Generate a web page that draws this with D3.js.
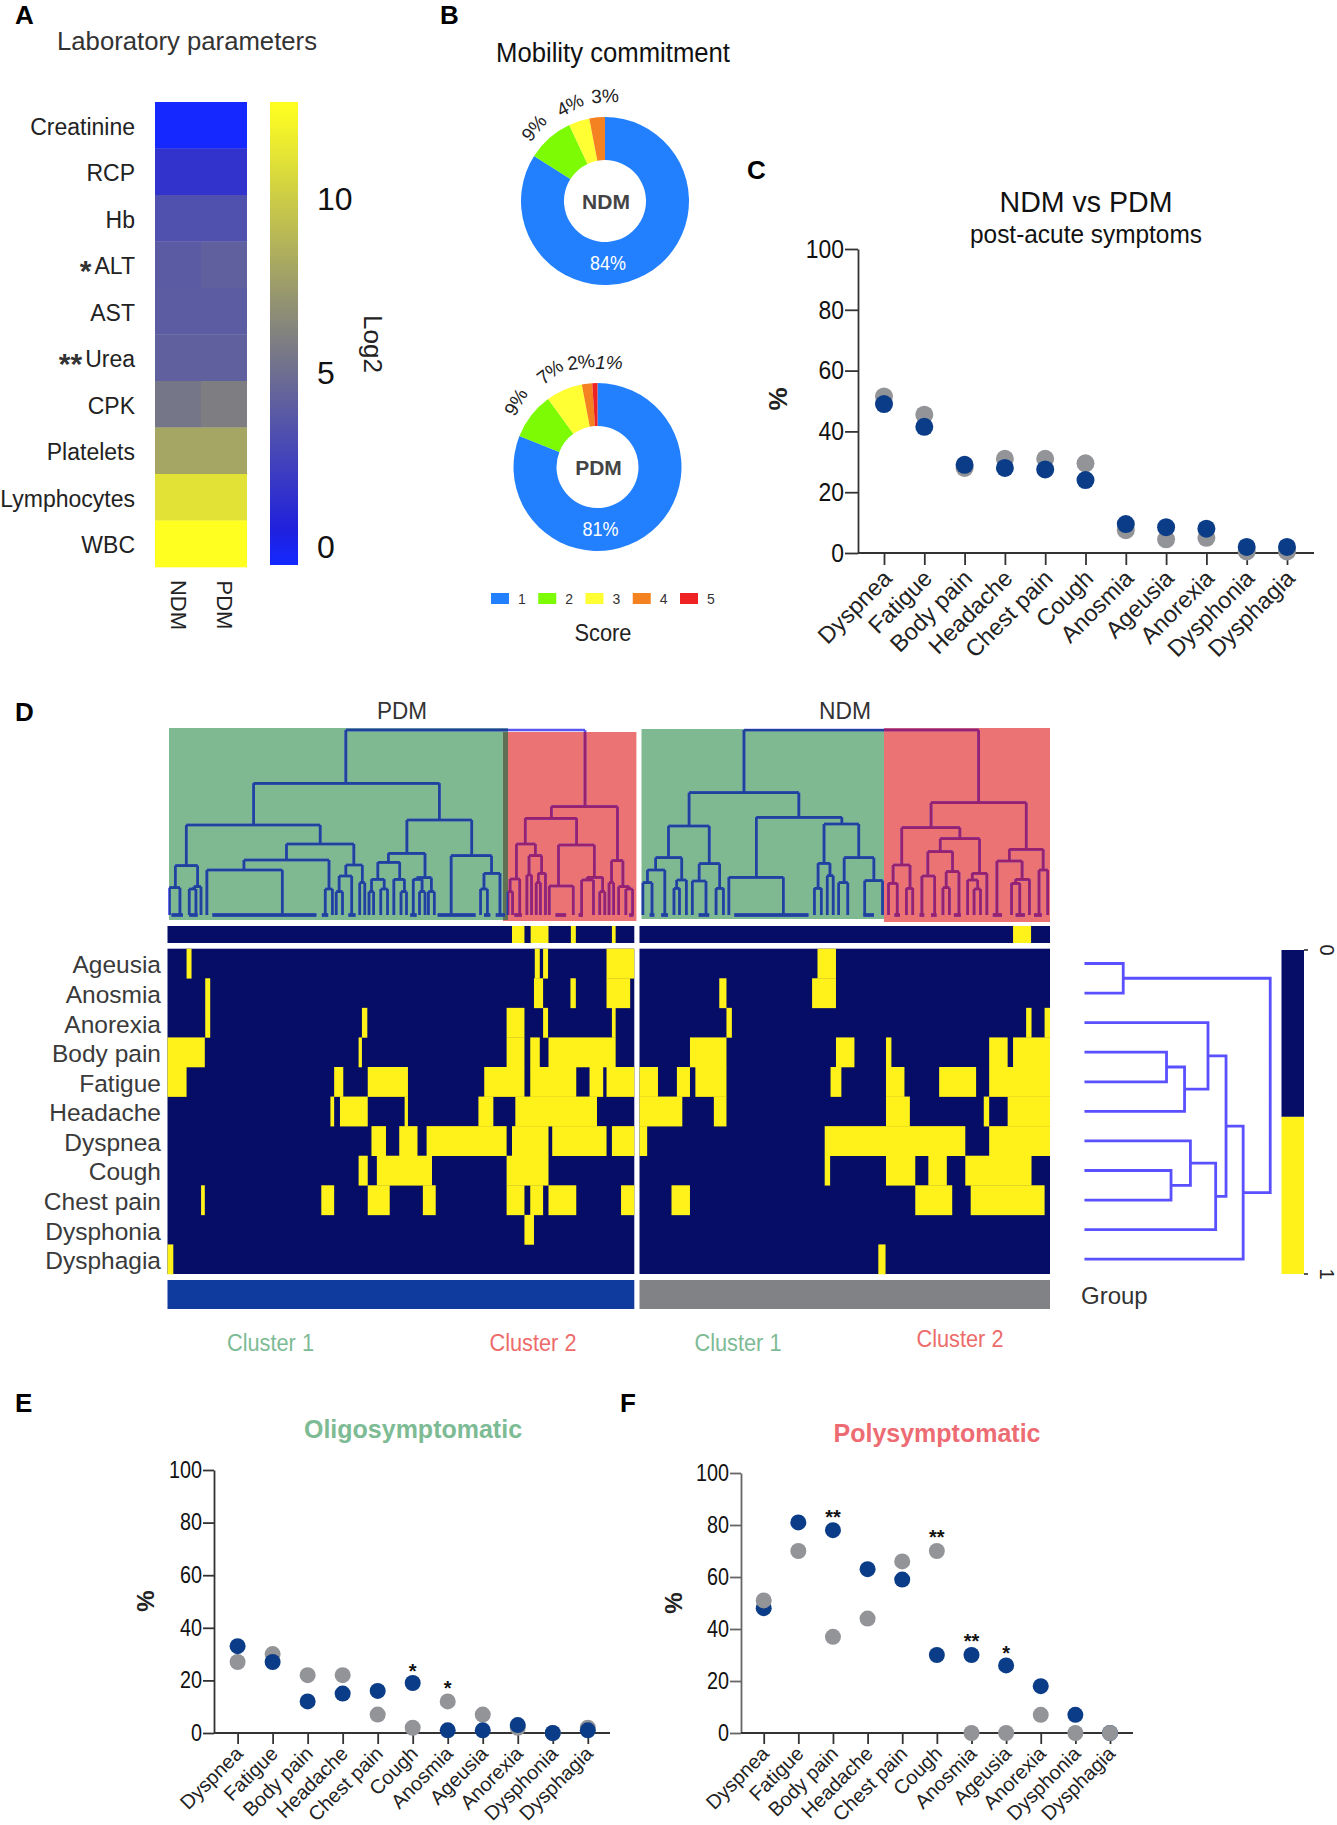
<!DOCTYPE html>
<html><head><meta charset="utf-8">
<script src="https://cdn.jsdelivr.net/npm/d3@7"></script>
<style>
html,body{margin:0;padding:0;background:#fff;overflow:hidden}
svg{display:block;font-family:"Liberation Sans",Arial,sans-serif}
</style></head><body><svg id="c" width="1337" height="1825"></svg>
<script>
// ---------- data ----------
const labParams=["Creatinine","RCP","Hb","*ALT","AST","**Urea","CPK","Platelets","Lymphocytes","WBC"];
const labGroups=["NDM","PDM"];
const labNDM=[0,2.0,3.7,4.3,4.4,4.6,5.85,8.3,11.4,12.9];
const labPDM=[0,2.0,3.7,4.6,4.4,4.6,6.3,8.3,11.4,12.9];
const mobScores=["1","2","3","4","5"];
const mobNDM=[84,9,4,3,0];
const mobPDM=[81,9,7,2,1];
const symptoms=["Dyspnea","Fatigue","Body pain","Headache","Chest pain","Cough","Anosmia","Ageusia","Anorexia","Dysphonia","Dysphagia"];
const cPDM=[49,41.5,29,28,27.5,24,9.5,8.5,8,2,2];
const cNDM=[51.5,45.5,28,31,31,29.5,7.5,4.5,5,0.5,0.5];
const ePDM=[33,27,12,15,16,19,1,1,3,0,1];
const eNDM=[27,30,22,22,7,2,12,7,2,0,2];
const fPDM=[48,81,78,63,59,30,30,26,18,7,0];
const fNDM=[51,70,37,44,66,70,0,0,7,0,0];
const eStars=[["Cough",25.5,"*"],["Anosmia",19,"*"]];
const fStars=[["Body pain",85,"**"],["Cough",77.3,"**"],["Anosmia",37.3,"**"],["Ageusia",32.7,"*"]];
const yTicks=[0,20,40,60,80,100];
const heatRows=["Ageusia","Anosmia","Anorexia","Body pain","Fatigue","Headache","Dyspnea","Cough","Chest pain","Dysphonia","Dysphagia"];
// yellow runs per row on a column-position axis
const pdmRuns=[
 [[450,462],[1290,1302],[1310,1322],[1463,1530]],
 [[495,507],[1288,1310],[1376,1389],[1463,1520]],
 [[495,507],[873,886],[1222,1265],[1310,1322],[1476,1485]],
 [[404,494],[865,873],[1222,1265],[1279,1302],[1323,1485]],
 [[404,450],[806,828],[887,984],[1168,1265],[1279,1390],[1422,1455],[1463,1530]],
 [[797,806],[820,887],[976,984],[1154,1190],[1243,1440]],
 [[896,931],[963,1007],[1029,1222],[1235,1323],[1332,1463],[1476,1530]],
 [[865,887],[909,1042],[1222,1323]],
 [[485,494],[775,806],[887,940],[1020,1051],[1222,1265],[1279,1310],[1323,1390],[1498,1530]],
 [[1265,1288]],
 [[404,418]]];
const ndmRuns=[
 [[416,457]],
 [[198,214],[404,457]],
 [[214,226],[879,891],[920,932]],
 [[133,214],[457,498],[568,580],[797,838],[850,932]],
 [[21,62],[104,133],[145,214],[445,469],[568,609],[686,768],[797,932]],
 [[21,116],[186,214],[568,621],[785,797],[838,932]],
 [[21,38],[432,744],[797,932]],
 [[432,444],[568,633],[662,703],[744,891]],
 [[92,133],[633,715],[756,920]],
 [],
 [[551,567]]];
const pdmTopRuns=[[1235,1265],[1280,1323],[1377,1389],[1476,1485]];
const ndmTopRuns=[[850,890]];
// dendrograms: [leftX,rightX,mergeHeight,leftChild,rightChild], 0 = leaf leg
const pdmTree=[822,1390,120,
 [603,1044,280,
  [443,761,405,
   [417,470,527,[403,428,593,0,0],[461,478,590,[450,466,597,0,0],0]],
   [681,841,462,
    [580,782,510,[492,671,540,0,0],[773,790,597,0,0]],
    [822,861,525,[806,836,558,[799,814,605,0,0],0],[855,867,578,0,0]]]],
  [967,1121,390,
   [923,1010,490,
    [898,950,517,
     [883,913,568,[877,888,605,0,0],[905,921,597,0,0]],
     [936,961,568,0,[953,966,605,0,0]]],
    [990,1025,563,[982,1003,568,0,[997,1010,605,0,0]],[1018,1032,605,0,0]]],
   [1072,1168,497,0,[1150,1188,550,[1142,1158,597,0,0],0]]]],
 [1310,1467,350,
  [1248,1370,385,
   [1227,1272,462,
    [1212,1235,567,[1207,1218,605,0,0],0],
    [1257,1287,497,[1252,1263,555,0,0],[1279,1296,550,[1274,1284,578,0,0],0]]],
   [1327,1412,465,
    [1305,1362,588,0,0],
    [1395,1432,562,[1382,1410,570,0,0],[1425,1437,605,0,0]]]],
  [1453,1480,512,[1447,1458,578,0,0],[1470,1495,590,0,[1487,1503,597,0,0]]]]];
const ndmTree=[271,784,120,
 [151,391,308,
  [106,195,408,
   [78,135,503,[60,98,540,[50,70,578,0,0],0],[124,145,570,[118,130,595,0,0],0]],
   [173,218,521,[158,188,573,0,0],[210,226,595,0,0]]],
  [298,485,382,
   [238,357,562,0,0],
   [446,522,402,
    [433,459,520,[425,440,595,0,0],[453,466,557,0,0]],
    [490,555,503,[478,498,578,0,0],[535,574,572,0,0]]]]],
 [680,888,338,
  [616,743,413,
   [597,634,525,[587,606,580,0,0],[626,640,595,0,0]],
   [700,786,446,
    [673,727,485,[660,688,558,0,0],[713,741,545,[706,720,593,0,0],0]],
    [770,802,550,[760,782,570,0,[774,788,597,0,0]],0]]],
  [851,925,478,
   [824,879,513,0,[865,895,568,[856,874,580,0,0],0]],
   [916,935,540,0,0]]]];
const pdmLeafClusters=[[408,435],[450,470],[505,752],[765,780],[828,845],[975,990],[1040,1130],[1150,1165],[1178,1200],[1222,1240],[1320,1345],[1375,1385],[1495,1505]];
const ndmLeafClusters=[[65,75],[90,105],[172,195],[250,412],[532,555],[600,612],[655,665],[680,692],[730,745],[815,835],[865,885],[905,922]];
// symptom dendrogram: [mergeX,childA,childB], numbers = row index
const rowTree=[1420,[1094,0,1],[1360,[1322,[1282,2,[1230,[1190,3,4],5]],[1299,[1243,6,[1200,7,8]],9]],10]];

// ---------- helpers ----------
const svg=d3.select("#c");
const FG="#222";
function txt(g,x,y,s,o={}){
  const t=g.append("text").attr("x",x).attr("y",y).text(s)
    .attr("font-size",o.size||22).attr("fill",o.fill||FG)
    .attr("text-anchor",o.anchor||"middle").attr("dominant-baseline","central");
  if(o.bold)t.attr("font-weight","bold");
  if(o.italic)t.attr("font-style","italic");
  if(o.len)t.attr("textLength",o.len).attr("lengthAdjust","spacingAndGlyphs");
  if(o.rot!=null)t.attr("transform",`rotate(${o.rot} ${x} ${y})`);
  return t;
}
[["A",15,15],["B",440,15],["C",747,170],["D",15,712],["E",15,1403],["F",620,1403]].forEach(d=>
  txt(svg,d[1],d[2],d[0],{size:26,bold:true,anchor:"start",fill:"#000"}));

// ---------- A ----------
const labColor=d3.scaleLinear().domain([0,1,6.4,12.9]).range(["#1428ff","#2020dd","#808080","#ffff20"]);
const aX=d3.scaleBand().domain(labGroups).range([155,247]);
const aY=d3.scaleBand().domain(labParams).range([102,567]);
const gA=svg.append("g");
txt(gA,187,41,"Laboratory parameters",{size:26,len:260,fill:"#333"});
[labNDM,labPDM].forEach((vals,k)=>{
  gA.selectAll(null).data(vals).join("rect")
    .attr("x",aX(labGroups[k])).attr("width",aX.bandwidth())
    .attr("y",(d,i)=>aY(labParams[i])).attr("height",aY.bandwidth()+0.3)
    .attr("fill",d=>labColor(d));
});
gA.selectAll(null).data(labParams).join("text")
  .attr("x",135).attr("y",d=>aY(d)+aY.bandwidth()/2+1.5)
  .attr("text-anchor","end").attr("dominant-baseline","central")
  .attr("font-size",23).attr("fill",FG)
  .each(function(d){
    const stars=d.match(/^\*+/), sel=d3.select(this), name=d.replace(/^\*+/,"");
    if(stars) sel.append("tspan").text(stars[0]).attr("font-size",30).attr("font-weight","bold").attr("fill","#333").attr("dy",4);
    sel.append("tspan").text(name).attr("dy",stars?-4:0).attr("dx",stars?3:0);
  });
labGroups.forEach(g=>txt(gA,aX(g)+aX.bandwidth()/2,605,g,{size:22,rot:90}));
const aScale=d3.scaleLinear().domain([0,10]).range([547,199]);
const defs=svg.append("defs");
const lg=defs.append("linearGradient").attr("id","labGrad").attr("x1",0).attr("x2",0).attr("y1",1).attr("y2",0);
d3.range(0,13.01,0.5).forEach(v=>lg.append("stop").attr("offset",v/13).attr("stop-color",labColor(v)));
gA.append("rect").attr("x",270).attr("width",28).attr("y",102).attr("height",463).attr("fill","url(#labGrad)");
[0,5,10].forEach(v=>txt(gA,317,aScale(v),v,{size:32,anchor:"start",fill:"#111"}));
txt(gA,373,344,"Log2",{size:26,rot:90});

// ---------- B ----------
const mobColors=d3.scaleOrdinal().domain(mobScores).range(["#2280ff","#7dfb05","#ffff33","#f58220","#ee2222"]);
const pie=d3.pie().sort(null).startAngle(0).endAngle(2*Math.PI);
const arc=d3.arc().innerRadius(41).outerRadius(84);
const gB=svg.append("g");
txt(gB,613,53,"Mobility commitment",{size:27,len:234,fill:"#111"});
function donut(cx,cy,vals,name,labelLayout){
  const g=gB.append("g").attr("transform",`translate(${cx},${cy})`);
  g.selectAll("path").data(pie(vals)).join("path").attr("d",arc).attr("fill",(d,i)=>mobColors(mobScores[i]));
  txt(g,1,0,name,{size:21,bold:true,fill:"#444"});
  txt(g,3,62,vals[0]+"%",{size:20,len:36,fill:"#fff"});
  labelLayout.forEach((l,i)=>txt(gB,l[0],l[1],vals[i+1]+"%",{size:19,rot:l[2],italic:l[3]}));
}
donut(605,201,mobNDM,"NDM",[[534,128,-50],[570,105,-28],[605,96,-3]]);
donut(597.5,467,mobPDM,"PDM",[[516,402,-60],[550,372,-38],[581,362,-8],[609,362,0,true]]);
const legX=d3.scalePoint().domain(mobScores).range([491,680]);
mobScores.forEach((s,i)=>{
  gB.append("rect").attr("x",legX(s)).attr("y",593).attr("width",18).attr("height",11).attr("fill",mobColors(s));
  txt(gB,legX(s)+31,598.5,s,{size:14,fill:"#333"});
});
txt(gB,603,632,"Score",{size:24,len:57});

// ---------- dot plots ----------
const BLUE="#0b3c87",GREY="#929497";
function dotPlot(o){
  const g=svg.append("g");
  const x=d3.scalePoint().domain(symptoms).range(o.xr);
  const y=d3.scaleLinear().domain([0,100]).range(o.yr);
  const ya=g.append("g").attr("transform",`translate(${o.ax},0)`)
    .call(d3.axisLeft(y).tickValues(yTicks).tickSize(o.tl).tickSizeOuter(0).tickPadding(1));
  ya.selectAll("text").attr("font-size",o.fs).attr("font-family","inherit").attr("fill","#111")
    .attr("x",-(o.tl+1)/o.sx).attr("transform",`scale(${o.sx},1)`);
  ya.selectAll("path,line").attr("stroke",o.axc).attr("stroke-width",1.8);
  const xa=g.append("g").attr("transform",`translate(0,${o.yr[0]})`)
    .call(d3.axisBottom(x).tickSize(o.xtl).tickSizeOuter(0));
  xa.select(".domain").remove();
  xa.selectAll("line").attr("stroke","#333").attr("stroke-width",1.8);
  xa.selectAll("text").attr("font-size",o.lfs).attr("font-family","inherit").attr("fill","#222")
    .attr("text-anchor","end").attr("dy",0).attr("y",0).attr("dominant-baseline","central")
    .attr("transform",`translate(${o.ldx},${o.ldy}) rotate(-45)`);
  g.append("line").attr("x1",o.ax).attr("x2",o.xEnd).attr("y1",y(0)).attr("y2",y(0)).attr("stroke","#333").attr("stroke-width",1.8);
  const series=o.greyOnTop?[[o.blue,BLUE],[o.grey,GREY]]:[[o.grey,GREY],[o.blue,BLUE]];
  series.forEach(s=>g.selectAll(null).data(s[0]).join("circle")
    .attr("cx",(d,i)=>x(symptoms[i])).attr("cy",d=>y(d)).attr("r",o.r).attr("fill",s[1]));
  (o.stars||[]).forEach(s=>txt(g,x(s[0]),y(s[1])+5,s[2],{size:20,bold:true,fill:"#111"}));
  txt(g,o.pct[0],o.pct[1],"%",{size:o.pfs,bold:true,rot:-90});
  return g;
}
const gC=dotPlot({xr:[884,1287],yr:[553,249],ax:858,tl:13,xEnd:1314,xtl:12,fs:26,sx:.88,lfs:23.5,ldx:3,ldy:21,r:9,
  axc:"#333",blue:cPDM,grey:cNDM,pct:[778,399],pfs:26});
txt(gC,1086,201,"NDM vs PDM",{size:30,len:173,fill:"#111"});
txt(gC,1086,234,"post-acute symptoms",{size:25,len:232,fill:"#111"});
const gE=dotPlot({xr:[237.6,587.8],yr:[1733,1470],ax:214,tl:11,xEnd:610,xtl:11,fs:23,sx:.86,lfs:20,ldx:1,ldy:17,r:8,
  axc:"#333",blue:ePDM,grey:eNDM,stars:eStars,pct:[145,1601],pfs:24});
txt(gE,413,1429,"Oligosymptomatic",{size:25,bold:true,fill:"#7dbb94"});
const gF=dotPlot({xr:[763.7,1110],yr:[1733,1473],ax:741,tl:11,xEnd:1133,xtl:11,fs:23,sx:.86,lfs:20,ldx:1,ldy:17,r:8,
  axc:"#666",blue:fPDM,grey:fNDM,greyOnTop:true,stars:fStars,pct:[673,1603],pfs:24});
txt(gF,937,1433,"Polysymptomatic",{size:25,bold:true,fill:"#ed6b73"});

// ---------- D ----------
const gD=svg.append("g");
txt(gD,402,710,"PDM",{size:24,len:50,fill:"#333"});
txt(gD,845,710,"NDM",{size:24,len:52,fill:"#333"});
const GREEN_R="#7fb992",RED_R="#ec7373";
const dY=d3.scaleLinear().domain([0,750]).range([690,940]);
const pdmDX=d3.scaleLinear().domain([402,1512]).range([169,636.4]);
const ndmDX=d3.scaleLinear().domain([47,940]).range([641.5,1050]);
const BASE=675;
function dendroPath(n,xs){
  let p=`M${xs(n[0])},${dY(n[2])}H${xs(n[1])}`;
  [[n[3],n[0]],[n[4],n[1]]].forEach(([c,cx])=>{
    p+=`M${xs(cx)},${dY(n[2])}V${dY(c?c[2]:BASE)}`;
    if(c)p+=dendroPath(c,xs);
  });
  return p;
}
function dendro(tree,xs,leafs,greenBox,redBox,id){
  const rect=(b,c)=>gD.append("rect").attr("x",b[0]).attr("y",b[1]).attr("width",b[2]-b[0]).attr("height",b[3]-b[1]).attr("fill",c);
  rect(greenBox,GREEN_R); rect(redBox,RED_R);
  if(redBox[0]<greenBox[2]) rect([redBox[0],redBox[1],greenBox[2],greenBox[3]],"#5f7055");
  const layer=(col,box,key)=>{
    const g=gD.append("g");
    if(box){
      defs.append("clipPath").attr("id",id+key).append("rect").attr("x",box[0]).attr("y",box[1]).attr("width",box[2]-box[0]).attr("height",box[3]-box[1]);
      g.attr("clip-path",`url(#${id+key})`);
    }
    g.append("path").attr("d",dendroPath(tree,xs)).attr("fill","none").attr("stroke",col).attr("stroke-width",2.6);
    g.selectAll("line").data(leafs).join("line")
      .attr("x1",d=>xs(d[0])).attr("x2",d=>xs(d[1])).attr("y1",dY(BASE)).attr("y2",dY(BASE))
      .attr("stroke",col).attr("stroke-width",3.5);
  };
  layer("#5a55f0",null,"a");
  layer("#1f439c",greenBox,"g");
  layer("#97206f",[Math.max(redBox[0],greenBox[2]),redBox[1],redBox[2],redBox[3]],"r");
}
dendro(pdmTree,pdmDX,pdmLeafClusters,[169,728,508,920],[503,732,636.4,921],"p");
dendro(ndmTree,ndmDX,ndmLeafClusters,[641.5,729,884,919],[884,728,1050,922],"n");

const NAVY="#050d66",YEL="#fff21a";
const pdmX=d3.scaleLinear().domain([404,1530]).range([167.5,634.3]);
const ndmX=d3.scaleLinear().domain([21,932]).range([639.5,1050]);
const hY=d3.scaleBand().domain(heatRows).range([948.7,1274]);
function heat(xs,runs,top,dom){
  gD.append("rect").attr("x",xs(dom[0])).attr("width",xs(dom[1])-xs(dom[0])).attr("y",926).attr("height",17).attr("fill",NAVY);
  gD.selectAll(null).data(top).join("rect").attr("x",d=>xs(d[0])).attr("width",d=>xs(d[1])-xs(d[0])).attr("y",926).attr("height",17).attr("fill",YEL);
  gD.append("rect").attr("x",xs(dom[0])).attr("width",xs(dom[1])-xs(dom[0])).attr("y",hY.range()[0]).attr("height",hY.range()[1]-hY.range()[0]).attr("fill",NAVY);
  runs.forEach((r,i)=>gD.selectAll(null).data(r).join("rect")
    .attr("x",d=>xs(d[0])).attr("width",d=>xs(d[1])-xs(d[0]))
    .attr("y",hY(heatRows[i])).attr("height",hY.bandwidth()+0.3).attr("fill",YEL));
}
heat(pdmX,pdmRuns,pdmTopRuns,[404,1530]);
heat(ndmX,ndmRuns,ndmTopRuns,[21,932]);
gD.append("rect").attr("x",pdmX(404)).attr("width",pdmX(1530)-pdmX(404)).attr("y",1280).attr("height",29).attr("fill","#0f3a9e");
gD.append("rect").attr("x",ndmX(21)).attr("width",ndmX(932)-ndmX(21)).attr("y",1280).attr("height",29).attr("fill","#808285");
gD.selectAll(null).data(heatRows).join("text").text(d=>d)
  .attr("x",161).attr("y",d=>hY(d)+hY.bandwidth()/2+1.5)
  .attr("text-anchor","end").attr("dominant-baseline","central").attr("font-size",24.5).attr("fill","#3a3a3a");
txt(gD,1081,1295,"Group",{size:24,anchor:"start",fill:"#333"});
[[270.5,1343,"Cluster 1","#7dbb94"],[533,1343,"Cluster 2","#ed6b6b"],[738,1343,"Cluster 1","#7dbb94"],[960,1339,"Cluster 2","#ed6b6b"]]
 .forEach(d=>txt(gD,d[0],d[1],d[2],{size:23,len:87,fill:d[3]}));
// row dendrogram
const rX=d3.scaleLinear().domain([0,707*2.218]).range([630,630+707]);
const rowMid=i=>hY(heatRows[i])+hY.bandwidth()/2;
let rowPath="";
function rowDen(n){
  if(typeof n==="number") return {x:rX(1008),y:rowMid(n)};
  const a=rowDen(n[1]),b=rowDen(n[2]),x=rX(n[0]);
  rowPath+=`M${a.x},${a.y}H${x}V${b.y}H${b.x}`;
  return {x,y:(a.y+b.y)/2};
}
rowDen(rowTree);
gD.append("path").attr("d",rowPath).attr("fill","none").attr("stroke","#5a50ff").attr("stroke-width",2.8);
// binary colour bar
const binY=d3.scaleLinear().domain([0,1]).range([950,1274]);
gD.append("rect").attr("x",1281.5).attr("width",22.5).attr("y",binY(0)).attr("height",binY(0.515)-binY(0)).attr("fill",NAVY);
gD.append("rect").attr("x",1281.5).attr("width",22.5).attr("y",binY(0.515)).attr("height",binY(1)-binY(0.515)).attr("fill",YEL);
[0,1].forEach(v=>{
  gD.append("line").attr("x1",1304).attr("x2",1308).attr("y1",binY(v)).attr("y2",binY(v)).attr("stroke","#222").attr("stroke-width",1.5);
  txt(gD,1327,binY(v),v,{size:20,rot:90,fill:"#222"});
});
</script></body></html>
